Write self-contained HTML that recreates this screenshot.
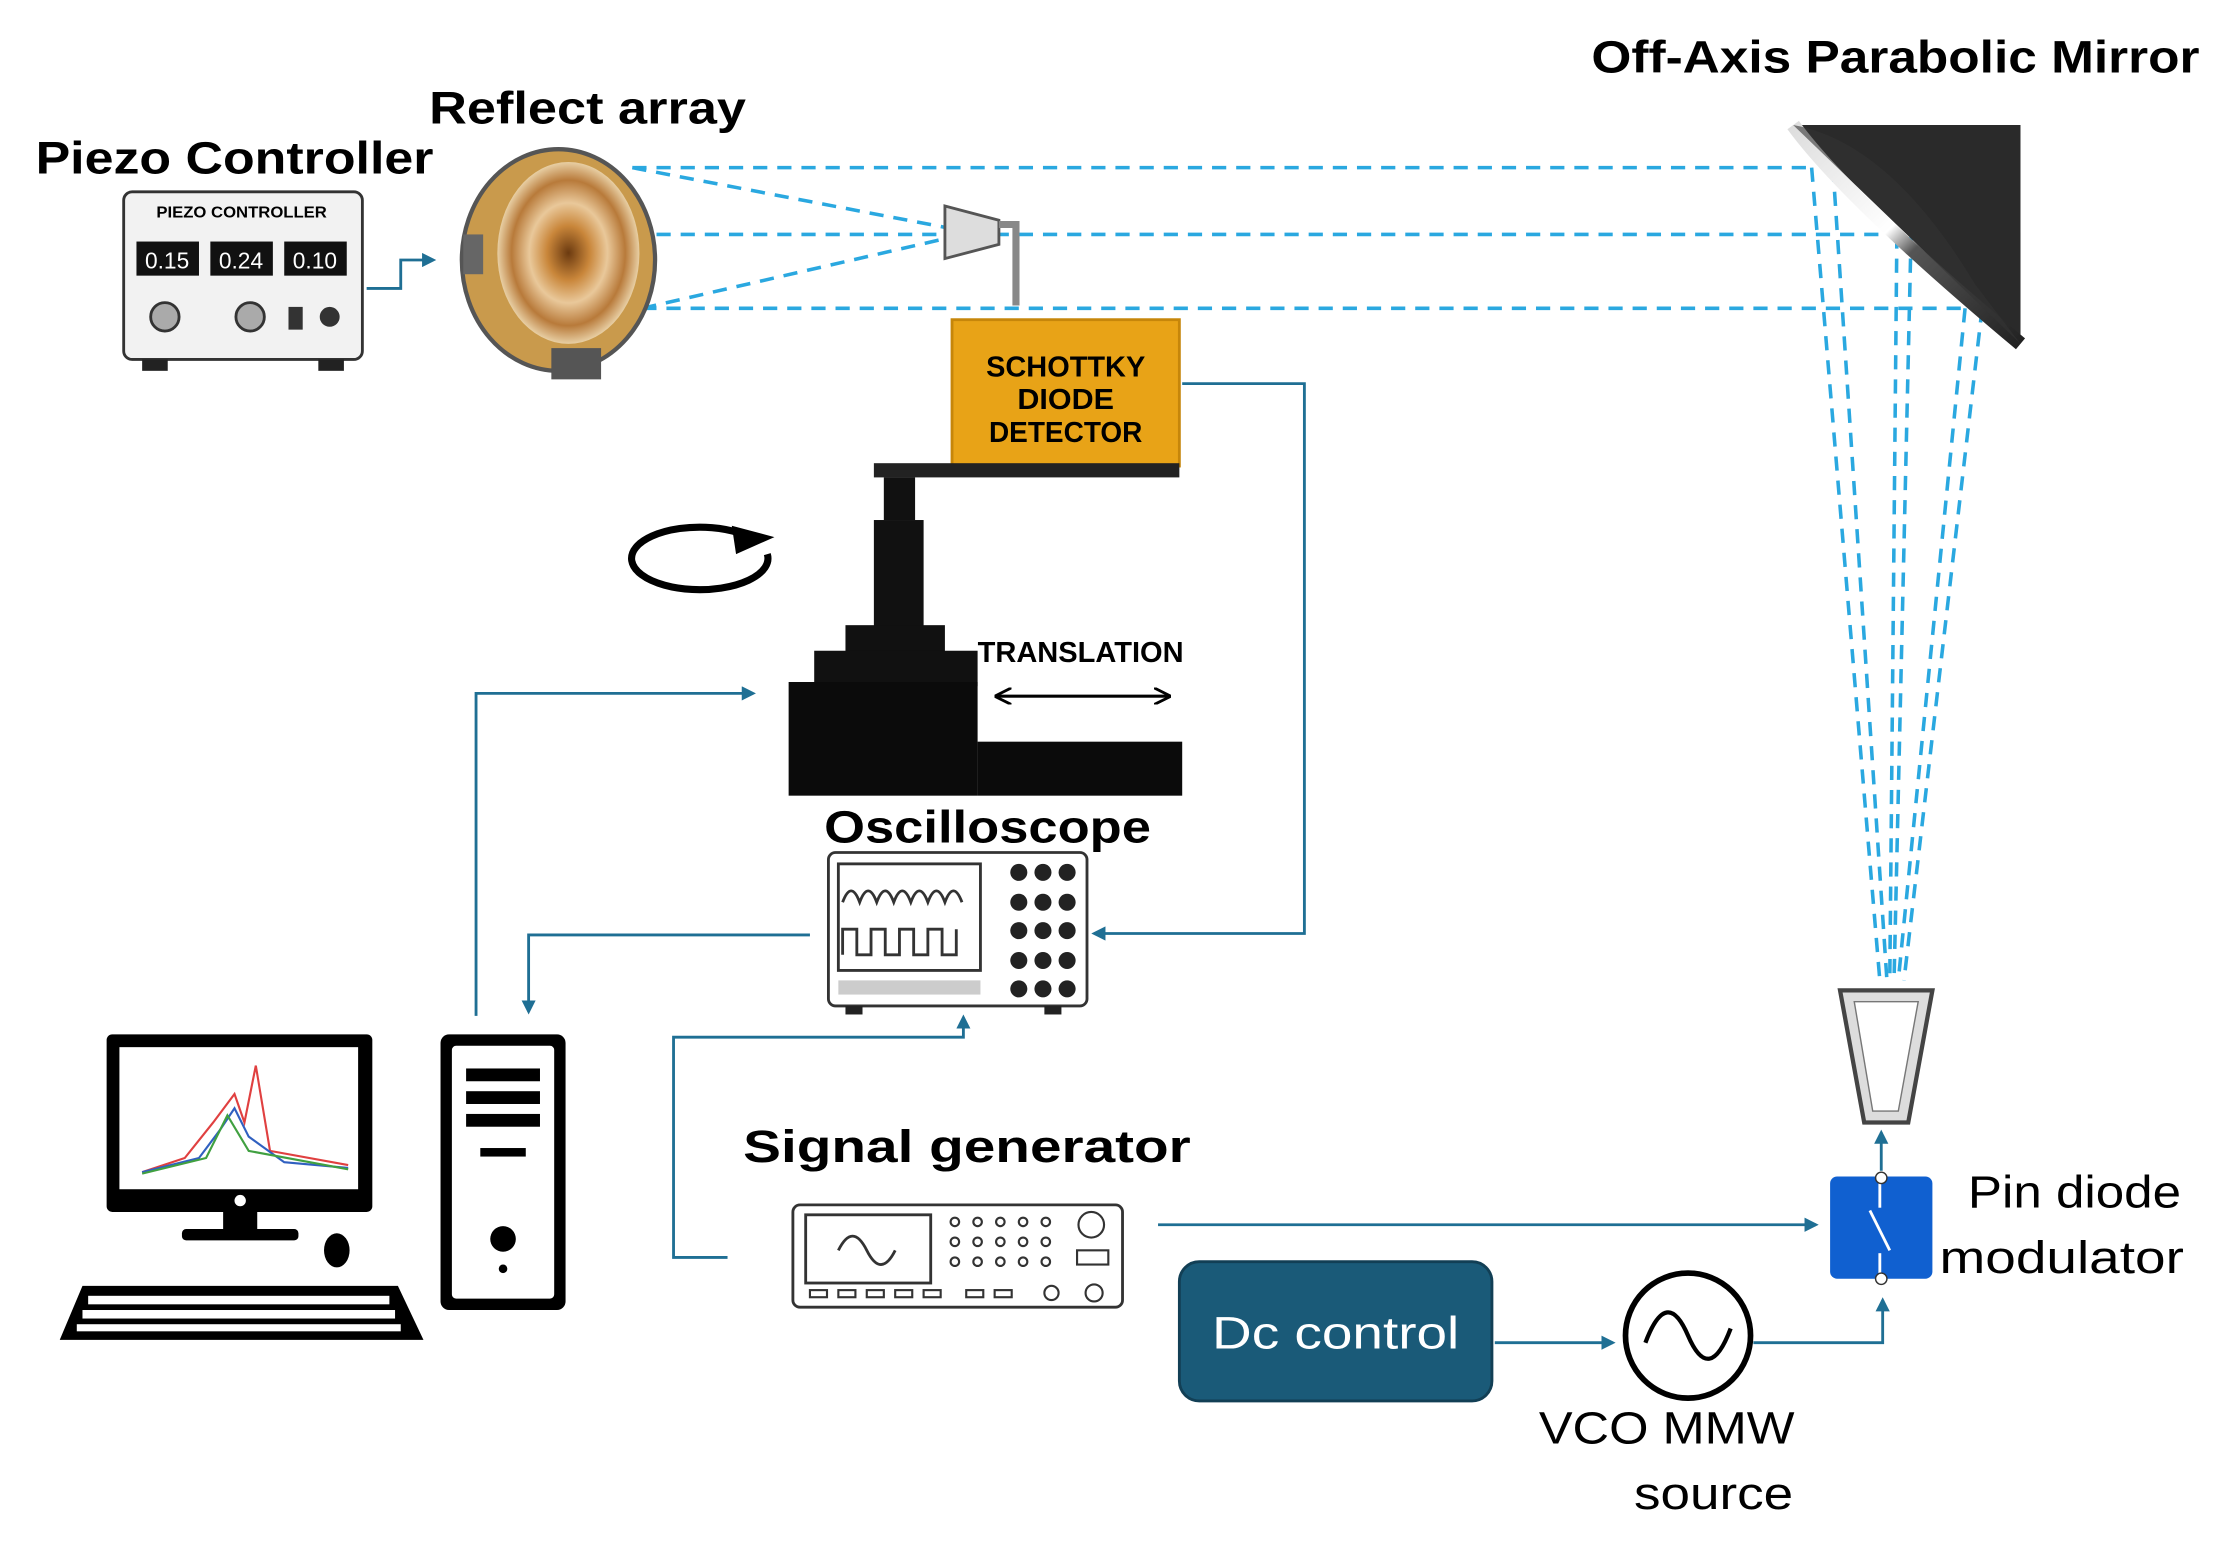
<!DOCTYPE html>
<html><head><meta charset="utf-8"><style>
html,body{margin:0;padding:0;background:#fff;}
svg{display:block;}
text{font-family:"Liberation Sans","DejaVu Sans",sans-serif;}
</style></head><body>
<svg width="2228" height="1548" viewBox="0 0 1568 1089.5" xmlns="http://www.w3.org/2000/svg">
<defs>
<marker id="a" markerWidth="10" markerHeight="10" refX="8" refY="5" orient="auto" markerUnits="userSpaceOnUse"><path d="M0,0 L10,5 L0,10 z" fill="#1f6f94"/></marker>
<marker id="k" markerWidth="12" markerHeight="12" refX="10" refY="6" orient="auto" markerUnits="userSpaceOnUse"><path d="M0,0 L12,6 L0,12" fill="none" stroke="#000" stroke-width="2"/></marker>
<linearGradient id="mg" x1="0" y1="0" x2="1" y2="1"><stop offset="0" stop-color="#ddd"/><stop offset="0.45" stop-color="#fff"/><stop offset="0.55" stop-color="#555"/><stop offset="1" stop-color="#222"/></linearGradient>
<radialGradient id="rg"><stop offset="0" stop-color="#6b3a10"/><stop offset="0.3" stop-color="#c9863a"/><stop offset="0.55" stop-color="#e9c89a"/><stop offset="0.8" stop-color="#b87a3a"/><stop offset="1" stop-color="#e8cfa4"/></radialGradient>
</defs>

<text x="25" y="122" font-size="32" font-weight="bold" textLength="280" lengthAdjust="spacingAndGlyphs">Piezo Controller</text>
<text x="302" y="87" font-size="32" font-weight="bold" textLength="223" lengthAdjust="spacingAndGlyphs">Reflect array</text>
<text x="1120" y="51" font-size="32" font-weight="bold" textLength="428" lengthAdjust="spacingAndGlyphs">Off-Axis Parabolic Mirror</text>

<g stroke="#2aa8e0" stroke-width="2.5" stroke-dasharray="10,7" fill="none">
<line x1="445" y1="118" x2="1275" y2="118"/>
<line x1="462" y1="165" x2="1340" y2="165"/>
<line x1="452" y1="217" x2="1392" y2="217"/>
<line x1="445" y1="118" x2="665" y2="160"/>
<line x1="452" y1="217" x2="665" y2="168"/>
<line x1="1275" y1="118" x2="1323" y2="690"/>
<line x1="1290" y1="118" x2="1328" y2="690"/>
<line x1="1335" y1="165" x2="1330" y2="690"/>
<line x1="1345" y1="165" x2="1333" y2="690"/>
<line x1="1383" y1="217" x2="1336" y2="690"/>
<line x1="1395" y1="217" x2="1340" y2="690"/>
</g>

<path d="M1262,88 L1422,88 L1422,242 Z" fill="#2a2a2a"/>
<path d="M1262,88 Q1300,140 1422,242" fill="none" stroke="url(#mg)" stroke-width="10"/>
<path d="M1262,88 Q1330,100 1390,200 L1422,242 Z" fill="#333" opacity="0.6"/>

<rect x="87" y="135" width="168" height="118" rx="6" fill="#f2f2f2" stroke="#333" stroke-width="2"/>
<text x="110" y="153" font-size="11" font-weight="bold" textLength="120" lengthAdjust="spacingAndGlyphs">PIEZO CONTROLLER</text>
<rect x="96" y="170" width="44" height="24" fill="#111"/><text x="102" y="189" font-size="16" fill="#fff">0.15</text>
<rect x="148" y="170" width="44" height="24" fill="#111"/><text x="154" y="189" font-size="16" fill="#fff">0.24</text>
<rect x="200" y="170" width="44" height="24" fill="#111"/><text x="206" y="189" font-size="16" fill="#fff">0.10</text>
<circle cx="116" cy="223" r="10" fill="#aaa" stroke="#333" stroke-width="2"/>
<circle cx="176" cy="223" r="10" fill="#aaa" stroke="#333" stroke-width="2"/>
<rect x="203" y="216" width="10" height="16" fill="#333"/>
<circle cx="232" cy="223" r="7" fill="#333"/>
<rect x="100" y="253" width="18" height="8" fill="#222"/><rect x="224" y="253" width="18" height="8" fill="#222"/>
<path d="M258,203 L282,203 L282,183 L305,183" fill="none" stroke="#1f6f94" stroke-width="2" marker-end="url(#a)"/>

<ellipse cx="393" cy="183" rx="68" ry="78" fill="#c99a4c" stroke="#555" stroke-width="3"/>
<ellipse cx="400" cy="178" rx="50" ry="64" fill="url(#rg)"/>
<rect x="388" y="245" width="35" height="22" fill="#555"/>
<rect x="326" y="165" width="14" height="28" fill="#666"/>

<path d="M665,145 L703,155 L703,172 L665,182 Z" fill="#ddd" stroke="#555" stroke-width="2"/>
<path d="M703,158 L715,158 L715,215" fill="none" stroke="#888" stroke-width="5"/>

<rect x="670" y="225" width="160" height="103" fill="#e8a317" stroke="#c6860a" stroke-width="2"/>
<text x="750" y="265" font-size="20" font-weight="bold" text-anchor="middle" textLength="112" lengthAdjust="spacingAndGlyphs">SCHOTTKY</text>
<text x="750" y="288" font-size="20" font-weight="bold" text-anchor="middle" textLength="68" lengthAdjust="spacingAndGlyphs">DIODE</text>
<text x="750" y="311" font-size="20" font-weight="bold" text-anchor="middle" textLength="108" lengthAdjust="spacingAndGlyphs">DETECTOR</text>
<path d="M832,270 L918,270 L918,657 L770,657" fill="none" stroke="#1f6f94" stroke-width="2" marker-end="url(#a)"/>

<rect x="615" y="326" width="215" height="10" fill="#222"/>
<rect x="622" y="336" width="22" height="30" fill="#111"/>
<rect x="615" y="366" width="35" height="75" fill="#111"/>
<rect x="595" y="440" width="70" height="20" fill="#111"/>
<rect x="573" y="458" width="115" height="25" fill="#111"/>
<rect x="555" y="480" width="133" height="80" fill="#0b0b0b"/>
<rect x="688" y="522" width="144" height="38" fill="#0b0b0b"/>
<path d="M540,390 A48,22 0 1,1 520,375" fill="none" stroke="#000" stroke-width="5"/>
<path d="M515,370 L545,378 L518,390 Z" fill="#000"/>
<text x="688" y="466" font-size="20" font-weight="bold" textLength="145" lengthAdjust="spacingAndGlyphs">TRANSLATION</text>
<line x1="702" y1="490" x2="822" y2="490" stroke="#000" stroke-width="2" marker-end="url(#k)"/>
<line x1="822" y1="490" x2="702" y2="490" stroke="#000" stroke-width="2" marker-end="url(#k)"/>

<text x="580" y="593" font-size="32" font-weight="bold" textLength="230" lengthAdjust="spacingAndGlyphs">Oscilloscope</text>
<rect x="583" y="600" width="182" height="108" rx="5" fill="#fff" stroke="#333" stroke-width="2"/>
<rect x="590" y="608" width="100" height="75" fill="#fff" stroke="#333" stroke-width="2"/>
<path d="M593,635 q6,-16 12,0 q6,-16 12,0 q6,-16 12,0 q6,-16 12,0 q6,-16 12,0 q6,-16 12,0 q6,-16 12,0" fill="none" stroke="#333" stroke-width="2"/>
<path d="M593,672 v-18 h10 v18 h10 v-18 h10 v18 h10 v-18 h10 v18 h10 v-18 h10 v18 h10 v-18" fill="none" stroke="#333" stroke-width="2"/>
<g fill="#222"><circle cx="717" cy="614" r="6"/><circle cx="734" cy="614" r="6"/><circle cx="751" cy="614" r="6"/>
<circle cx="717" cy="635" r="6"/><circle cx="734" cy="635" r="6"/><circle cx="751" cy="635" r="6"/>
<circle cx="717" cy="655" r="6"/><circle cx="734" cy="655" r="6"/><circle cx="751" cy="655" r="6"/>
<circle cx="717" cy="676" r="6"/><circle cx="734" cy="676" r="6"/><circle cx="751" cy="676" r="6"/>
<circle cx="717" cy="696" r="6"/><circle cx="734" cy="696" r="6"/><circle cx="751" cy="696" r="6"/></g>
<rect x="590" y="690" width="100" height="10" fill="#ccc"/>
<rect x="595" y="708" width="12" height="6" fill="#222"/><rect x="735" y="708" width="12" height="6" fill="#222"/>

<path d="M570,658 L372,658 L372,712" fill="none" stroke="#1f6f94" stroke-width="2" marker-end="url(#a)"/>
<path d="M335,715 L335,488 L530,488" fill="none" stroke="#1f6f94" stroke-width="2" marker-end="url(#a)"/>
<path d="M512,885 L474,885 L474,730 L678,730 L678,716" fill="none" stroke="#1f6f94" stroke-width="2" marker-end="url(#a)"/>

<rect x="75" y="728" width="187" height="125" rx="4" fill="#000"/>
<rect x="84" y="737" width="168" height="100" fill="#fff"/>
<path d="M100,825 L130,815 L150,790 L165,770 L172,790 L180,750 L190,810 L245,820" fill="none" stroke="#e04040" stroke-width="1.5"/>
<path d="M100,825 L140,815 L155,795 L165,780 L175,800 L200,818 L245,822" fill="none" stroke="#3060c0" stroke-width="1.5"/>
<path d="M100,826 L145,815 L160,785 L175,810 L245,823" fill="none" stroke="#40a040" stroke-width="1.5"/>
<rect x="157" y="853" width="24" height="15" fill="#000"/>
<rect x="128" y="865" width="82" height="8" rx="3" fill="#000"/>
<circle cx="169" cy="845" r="4" fill="#fff"/>
<ellipse cx="237" cy="880" rx="9" ry="12" fill="#000"/>
<path d="M58,905 L280,905 L298,943 L42,943 Z" fill="#000"/>
<g fill="#fff"><rect x="62" y="912" width="212" height="6"/><rect x="58" y="922" width="220" height="6"/><rect x="54" y="932" width="228" height="5"/></g>
<rect x="310" y="728" width="88" height="194" rx="6" fill="#000"/>
<rect x="318" y="736" width="72" height="178" rx="3" fill="#fff"/>
<rect x="328" y="752" width="52" height="9" fill="#000"/><rect x="328" y="768" width="52" height="9" fill="#000"/><rect x="328" y="784" width="52" height="9" fill="#000"/>
<rect x="338" y="808" width="32" height="6" fill="#000"/>
<circle cx="354" cy="872" r="9" fill="#000"/><circle cx="354" cy="893" r="3" fill="#000"/>

<text x="523" y="818" font-size="32" font-weight="bold" textLength="315" lengthAdjust="spacingAndGlyphs">Signal generator</text>
<rect x="558" y="848" width="232" height="72" rx="5" fill="#fff" stroke="#333" stroke-width="2"/>
<rect x="567" y="855" width="88" height="48" fill="#fff" stroke="#333" stroke-width="2"/>
<path d="M590,880 q10,-20 20,0 q10,20 20,0" fill="none" stroke="#333" stroke-width="2"/>
<g fill="none" stroke="#333" stroke-width="1.5"><circle cx="672" cy="860" r="3"/><circle cx="688" cy="860" r="3"/><circle cx="704" cy="860" r="3"/><circle cx="720" cy="860" r="3"/><circle cx="736" cy="860" r="3"/>
<circle cx="672" cy="874" r="3"/><circle cx="688" cy="874" r="3"/><circle cx="704" cy="874" r="3"/><circle cx="720" cy="874" r="3"/><circle cx="736" cy="874" r="3"/>
<circle cx="672" cy="888" r="3"/><circle cx="688" cy="888" r="3"/><circle cx="704" cy="888" r="3"/><circle cx="720" cy="888" r="3"/><circle cx="736" cy="888" r="3"/>
<circle cx="768" cy="862" r="9"/><rect x="758" y="880" width="22" height="10"/>
<rect x="570" y="908" width="12" height="5"/><rect x="590" y="908" width="12" height="5"/><rect x="610" y="908" width="12" height="5"/><rect x="630" y="908" width="12" height="5"/><rect x="650" y="908" width="12" height="5"/><rect x="680" y="908" width="12" height="5"/><rect x="700" y="908" width="12" height="5"/>
<circle cx="740" cy="910" r="5"/><circle cx="770" cy="910" r="6"/></g>
<line x1="815" y1="862" x2="1278" y2="862" stroke="#1f6f94" stroke-width="2" marker-end="url(#a)"/>

<rect x="830" y="888" width="220" height="98" rx="14" fill="#1a5a78" stroke="#123f55" stroke-width="2"/>
<text x="940" y="949" font-size="32" fill="#fff" text-anchor="middle" textLength="174" lengthAdjust="spacingAndGlyphs">Dc control</text>
<line x1="1052" y1="945" x2="1135" y2="945" stroke="#1f6f94" stroke-width="2" marker-end="url(#a)"/>

<circle cx="1188" cy="940" r="44" fill="#fff" stroke="#000" stroke-width="4"/>
<path d="M1158,945 q15,-40 30,-5 q15,35 30,-5" fill="none" stroke="#000" stroke-width="3"/>
<text x="1083" y="1016" font-size="32" textLength="180" lengthAdjust="spacingAndGlyphs">VCO MMW</text>
<text x="1150" y="1062" font-size="32" textLength="112" lengthAdjust="spacingAndGlyphs">source</text>
<path d="M1234,945 L1325,945 L1325,915" fill="none" stroke="#1f6f94" stroke-width="2" marker-end="url(#a)"/>

<rect x="1288" y="828" width="72" height="72" rx="5" fill="#1060d0"/>
<line x1="1323" y1="832" x2="1323" y2="850" stroke="#fff" stroke-width="2"/>
<line x1="1316" y1="852" x2="1330" y2="880" stroke="#fff" stroke-width="2"/>
<line x1="1323" y1="882" x2="1323" y2="898" stroke="#fff" stroke-width="2"/>
<circle cx="1324" cy="829" r="4" fill="#fff" stroke="#333"/>
<circle cx="1324" cy="900" r="4" fill="#fff" stroke="#333"/>
<text x="1385" y="850" font-size="32" textLength="150" lengthAdjust="spacingAndGlyphs">Pin diode</text>
<text x="1365" y="896" font-size="32" textLength="172" lengthAdjust="spacingAndGlyphs">modulator</text>
<line x1="1324" y1="824" x2="1324" y2="797" stroke="#1f6f94" stroke-width="2" marker-end="url(#a)"/>

<path d="M1295,697 L1360,697 L1343,790 L1312,790 Z" fill="#ddd" stroke="#444" stroke-width="3"/>
<path d="M1305,705 L1350,705 L1336,782 L1318,782 Z" fill="#fff" stroke="#777" stroke-width="1"/>
</svg>
</body></html>
